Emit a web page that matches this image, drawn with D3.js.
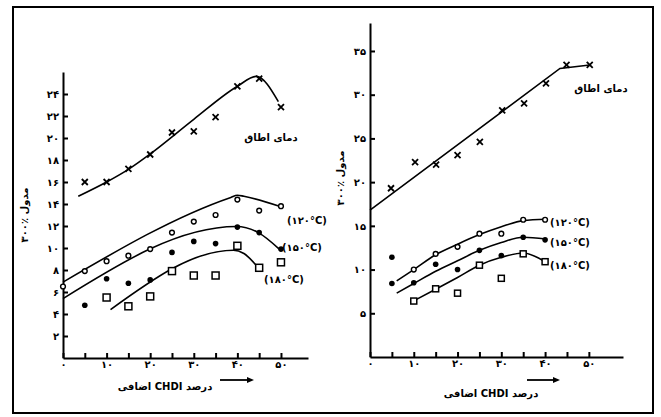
<!DOCTYPE html>
<html><head><meta charset="utf-8">
<script src="https://cdn.jsdelivr.net/npm/d3@7"></script>
<style>body{margin:0;background:#fff}</style>
</head><body>
<svg id="c" width="661" height="417"></svg>
<script>
// ---------- data ----------
const xTicks = [0,5,10,15,20,25,30,35,40,45,50];
const xTickLabels = [0,10,20,30,40,50];
const leftYTicks = [2,4,6,8,10,12,14,16,18,20,22,24];
const rightYTicks = [5,10,15,20,25,30,35];
const seriesLabels = ["(۱۲۰°C)","(۱۵۰°C)","(۱۸۰°C)"];
const roomLabel = "دمای اطاق";
const yTitle = "مدول ٪۳۰۰";
const xTitle = "درصد CHDI اضافی";

// left panel measured points [x, y]
const leftRoom = [[5,16.0],[10,16.0],[15,17.2],[20,18.5],[25,20.5],[30,20.6],[35,21.9],[40,24.7],[45,25.4],[50,22.8]];
const left120 = [[0,6.5],[5,7.9],[10,8.8],[15,9.3],[20,9.9],[25,11.4],[30,12.4],[35,13.0],[40,14.4],[45,13.4],[50,13.8]];
const left150 = [[5,4.8],[10,7.2],[15,6.8],[20,7.1],[25,9.6],[30,10.6],[35,10.4],[40,11.9],[45,11.4],[50,9.9]];
const left180 = [[10,5.5],[15,4.7],[20,5.6],[25,7.9],[30,7.5],[35,7.5],[40,10.2],[45,8.2],[50,8.7]];
// left panel fitted curves
const leftRoomFit = [[3.5,14.7],[10,16.0],[15,17.15],[20,18.55],[30,21.7],[40,24.7],[44.3,25.6],[49.4,23.3]];
const left120Fit = [[0,6.9],[38.5,14.6],[40,14.8],[41.5,14.7],[50,13.75]];
const left150Fit = [[0,5.4],[39.8,11.95],[44.8,11.4],[49.6,9.9]];
const left180Fit = [[10.9,4.4],[39.1,9.8],[41.5,9.5],[44.8,8.2]];

// right panel measured points
const rightRoom = [[4.8,19.3],[10.3,22.3],[15.1,22.0],[20,23.1],[25.1,24.6],[30.2,28.2],[35.2,29.0],[40.2,31.3],[44.9,33.4],[50.2,33.4]];
const right120 = [[10,10.0],[15,11.8],[20,12.6],[25,14.1],[30,14.1],[35,15.7],[40,15.7]];
const right150 = [[5,11.4],[5,8.4],[10,8.5],[15,10.6],[20,10.0],[25,12.2],[30,11.6],[35,13.7],[40,13.4]];
const right180 = [[10,6.4],[15,7.8],[20,7.3],[25,10.5],[30,9.0],[35,11.8],[40,10.9]];
// right panel fitted curves
const rightRoomFit = [[0,16.8],[43.4,33.0],[50.2,33.4]];
const right120Fit = [[6.1,8.7],[10,10.0],[15,11.7],[20,12.9],[25,14.0],[30,14.9],[35,15.6],[40.2,15.75]];
const right150Fit = [[6.1,7.3],[10,8.4],[15,9.8],[20,11.0],[25,12.2],[30,13.1],[35,13.7],[40.2,13.5]];
const right180Fit = [[9.9,6.4],[15,7.75],[20,9.1],[25,10.5],[30,11.4],[35,11.9],[40,10.9]];

// ---------- drawing ----------
const fa = n => String(n).replace(/\d/g, d => "۰۱۲۳۴۵۶۷۸۹"[d]);
const svg = d3.select("#c");
const FONT = "'DejaVu Sans', sans-serif";
svg.append("rect").attr("width",661).attr("height",417).attr("fill","#fff");
svg.append("rect").attr("x",13).attr("y",7).attr("width",640).attr("height",406)
  .attr("fill","none").attr("stroke","#000").attr("stroke-width",2);

function panel(cfg){
  const g = svg.append("g");
  const x = d3.scaleLinear().domain(cfg.xd).range(cfg.xr);
  const y = d3.scaleLinear().domain(cfg.yd).range(cfg.yr);

  const ax = g.append("g").attr("transform",`translate(0,${cfg.yr[0]})`)
    .call(d3.axisBottom(x).tickValues(xTicks).tickSizeInner(-5).tickSizeOuter(0).tickPadding(3)
      .tickFormat(v => xTickLabels.includes(v) ? fa(v) : ""));
  const ay = g.append("g").attr("transform",`translate(${cfg.xr[0]},0)`)
    .call(d3.axisLeft(y).tickValues(cfg.yTicks).tickSizeInner(-5).tickSizeOuter(0).tickPadding(4)
      .tickFormat(fa));
  [ax,ay].forEach(a=>{
    a.select(".domain").attr("stroke","#000").attr("stroke-width",2);
    a.selectAll(".tick line").attr("stroke","#000").attr("stroke-width",2);
    a.selectAll(".tick text").attr("fill","#000").style("font-family",FONT)
      .style("font-size","10px").style("font-weight","bold");
  });

  const line = d3.line().x(d=>x(d[0])).y(d=>y(d[1])).curve(d3.curveMonotoneX);
  const lineL = d3.line().x(d=>x(d[0])).y(d=>y(d[1]));
  [[cfg.roomFit, cfg.roomLinear?lineL:line],[cfg.f120,line],[cfg.f150,line],[cfg.f180,line]].forEach(([d,l])=>{
    g.append("path").attr("d",l(d)).attr("fill","none").attr("stroke","#000").attr("stroke-width",1.6);
  });

  // markers
  g.selectAll(".x").data(cfg.room).enter().append("path")
    .attr("d",d=>{const cx=x(d[0]),cy=y(d[1]),s=3;return `M${cx-s},${cy-s}L${cx+s},${cy+s}M${cx-s},${cy+s}L${cx+s},${cy-s}`;})
    .attr("stroke","#000").attr("stroke-width",1.8);
  g.selectAll(".o").data(cfg.s120).enter().append("circle")
    .attr("cx",d=>x(d[0])).attr("cy",d=>y(d[1])).attr("r",2.4)
    .attr("fill","#fff").attr("stroke","#000").attr("stroke-width",1.4);
  g.selectAll(".f").data(cfg.s150).enter().append("circle")
    .attr("cx",d=>x(d[0])).attr("cy",d=>y(d[1])).attr("r",2.8).attr("fill","#000");
  const sq = cfg.sq;
  g.selectAll(".s").data(cfg.s180).enter().append("rect")
    .attr("x",d=>x(d[0])-sq/2).attr("y",d=>y(d[1])-sq/2).attr("width",sq).attr("height",sq)
    .attr("fill","#fff").attr("stroke","#000").attr("stroke-width",1.5);

  const txt = (s,px,py,anchor,rtl) => {
    const t = g.append("text").attr("x",px).attr("y",py).attr("text-anchor",anchor||"start")
      .style("font-family",FONT).style("font-size","10px").style("font-weight","bold").text(s);
    if(rtl) t.attr("direction","rtl");
    return t;
  };
  txt(roomLabel, cfg.roomLab[0], cfg.roomLab[1], "middle", true);
  seriesLabels.forEach((s,i)=>txt(s, cfg.labs[i][0], cfg.labs[i][1]));
  txt(xTitle, cfg.xt[0], cfg.xt[1], "middle", true);
  g.append("text").attr("transform",`translate(${cfg.yt[0]},${cfg.yt[1]}) rotate(-90)`)
    .attr("text-anchor","middle").attr("direction","rtl")
    .style("font-family",FONT).style("font-size","10px").style("font-weight","bold").text(yTitle);
  // arrow
  const [a0,a1,ay0] = cfg.arrow;
  g.append("line").attr("x1",a0).attr("x2",a1-5).attr("y1",ay0).attr("y2",ay0).attr("stroke","#000").attr("stroke-width",1.8);
  g.append("path").attr("d",`M${a1},${ay0}L${a1-7},${ay0-3}L${a1-7},${ay0+3}Z`).attr("fill","#000");
}

panel({xd:[0,56.2], xr:[63,308], yd:[0,26], yr:[358,72], yTicks:leftYTicks,
  room:leftRoom, s120:left120, s150:left150, s180:left180,
  roomFit:leftRoomFit, f120:left120Fit, f150:left150Fit, f180:left180Fit, sq:7,
  roomLab:[271,141], labs:[[287,224],[282,251],[264,283]], xt:[165,390], yt:[28,215], arrow:[220,254,380]});

panel({xd:[0,57.8], xr:[370,623], yd:[0,38.2], yr:[357,23], yTicks:rightYTicks,
  room:rightRoom, s120:right120, s150:right150, s180:right180, roomLinear:true,
  roomFit:rightRoomFit, f120:right120Fit, f150:right150Fit, f180:right180Fit, sq:6,
  roomLab:[601,92], labs:[[550,226],[550,246],[550,269]], xt:[491,397], yt:[344,178], arrow:[527,560,380]});
</script>
</body></html>
